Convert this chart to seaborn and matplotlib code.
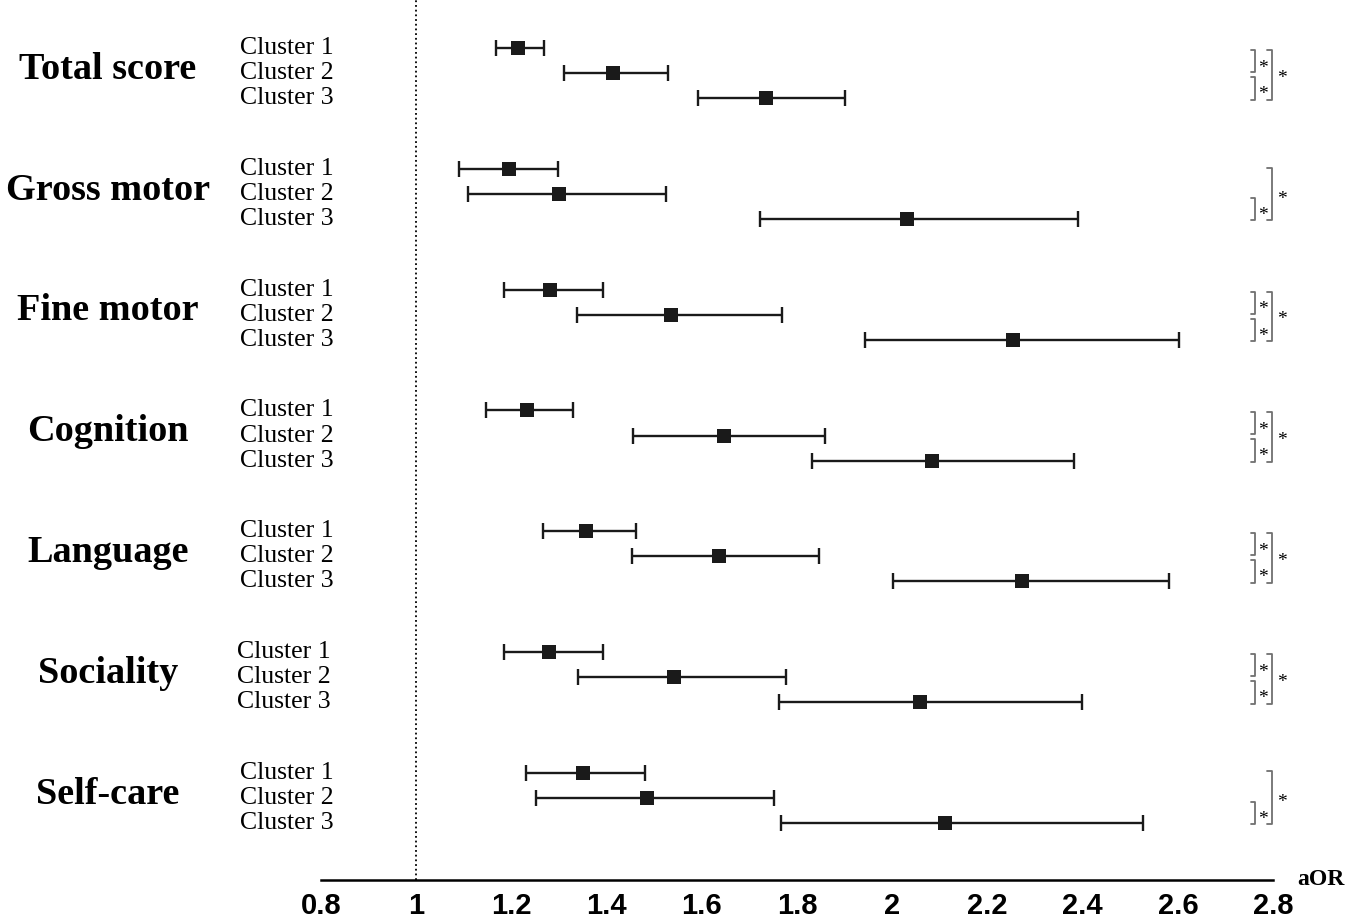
import numpy as np
import pandas as pd
import matplotlib.pyplot as plt
import seaborn as sns

# Forest plot of adjusted odds ratios by cluster
sns.set_style("white")
plt.rcParams['font.family'] = ['Liberation Serif', 'DejaVu Serif']
plt.rcParams['text.color'] = 'black'
plt.rcParams['xtick.color'] = 'black'

outcomes = ["Total score", "Gross motor", "Fine motor", "Cognition",
            "Language", "Sociality", "Self-care"]
clusters = ["Cluster 1", "Cluster 2", "Cluster 3"]

aor = [[1.214, 1.413, 1.734],
       [1.194, 1.301, 2.032],
       [1.282, 1.535, 2.253],
       [1.232, 1.647, 2.083],
       [1.357, 1.636, 2.273],
       [1.278, 1.541, 2.059],
       [1.350, 1.484, 2.111]]
ci_low = [[1.167, 1.310, 1.591],
          [1.089, 1.108, 1.723],
          [1.184, 1.337, 1.942],
          [1.147, 1.455, 1.832],
          [1.267, 1.454, 2.002],
          [1.185, 1.341, 1.763],
          [1.231, 1.252, 1.766]]
ci_high = [[1.268, 1.530, 1.901],
           [1.298, 1.525, 2.390],
           [1.393, 1.769, 2.602],
           [1.330, 1.858, 2.382],
           [1.462, 1.846, 2.582],
           [1.392, 1.776, 2.398],
           [1.481, 1.752, 2.527]]

# significance brackets: cluster1 vs 2, cluster2 vs 3, cluster1 vs 3
sig_12 = [True, False, True, True, True, True, False]
sig_23 = [True, True, True, True, True, True, True]
sig_13 = [True, True, True, True, True, True, True]

x_ticks = [0.8, 1.0, 1.2, 1.4, 1.6, 1.8, 2.0, 2.2, 2.4, 2.6, 2.8]

GROUP_STEP = 4.79

rows = []
for g, name in enumerate(outcomes):
    for j, c in enumerate(clusters):
        rows.append({'outcome': name, 'cluster': c, 'aor': aor[g][j],
                     'lo': ci_low[g][j], 'hi': ci_high[g][j],
                     'y': g * GROUP_STEP + j})
df = pd.DataFrame(rows)

fig, ax = plt.subplots(figsize=(13.48, 9.18), dpi=100)
ax.set_position([0.2381, 0.0414, 0.7063, 0.9586])

ax.axvline(1, color='black', ls=(0, (1, 1.6)), lw=1.3, zorder=0)

ax.errorbar(df['aor'], df['y'], xerr=[df['aor'] - df['lo'], df['hi'] - df['aor']],
            fmt='none', ecolor='#1a1a1a', elinewidth=1.7, capsize=5.8, capthick=1.7, zorder=2)
sns.scatterplot(data=df, x='aor', y='y', marker='s', s=110, color='#1a1a1a',
                linewidth=0, zorder=3, ax=ax, legend=False)

ax.set_xlim(0.8, 2.8)
ax.set_ylim(33.0, -1.905)
ax.set_xticks(x_ticks)
ax.set_xticklabels([f"{v:g}" for v in x_ticks])
ax.set_yticks([])
ax.set_xlabel('')
ax.set_ylabel('')
sns.despine(ax=ax, left=True)
ax.spines['bottom'].set_linewidth(1.8)
ax.spines['bottom'].set_color('black')
ax.tick_params(axis='x', length=7, width=1.6, pad=2, labelsize=21, colors='black')
for lbl in ax.get_xticklabels():
    lbl.set_fontfamily(['Liberation Sans', 'DejaVu Sans'])
    lbl.set_fontweight('bold')

ax.text(1.0504, 0.0, 'aOR', transform=ax.transAxes, ha='center', va='center',
        fontsize=17, fontweight='bold')

trans = ax.get_yaxis_transform()
bracket_color = '#707070'


def bracket(x_line, x_tick, y0, y1):
    ax.plot([x_tick, x_line, x_line, x_tick], [y0, y0, y1, y1], transform=trans,
            color=bracket_color, lw=1.3, clip_on=False)


for g, name in enumerate(outcomes):
    y0 = g * GROUP_STEP
    ax.text(-0.2237, y0 + 0.85, name, transform=trans, ha='center', va='center',
            fontsize=27.5, fontweight='bold')
    # Sociality labels sit a few pixels further left in the original
    lab_x = -0.088 if name == "Sociality" else -0.085
    for j, c in enumerate(clusters):
        ax.text(lab_x, y0 + j, c, transform=trans, ha='left', va='center', fontsize=18.5)

    if sig_12[g]:
        bracket(0.981, 0.977, y0 + 0.08, y0 + 0.95)
        ax.text(0.9895, y0 + 0.8, '*', transform=trans, ha='center', va='center', fontsize=14)
    if sig_23[g]:
        bracket(0.981, 0.977, y0 + 1.15, y0 + 2.05)
        ax.text(0.9895, y0 + 1.85, '*', transform=trans, ha='center', va='center', fontsize=14)
    if sig_13[g]:
        top = y0 + 0.08 if sig_12[g] else y0 - 0.05
        bracket(0.999, 0.9937, top, y0 + 2.05)
        ax.text(1.0095, y0 + 1.2, '*', transform=trans, ha='center', va='center',
                fontsize=14, clip_on=False)

fig.savefig('out.png', dpi=100)
